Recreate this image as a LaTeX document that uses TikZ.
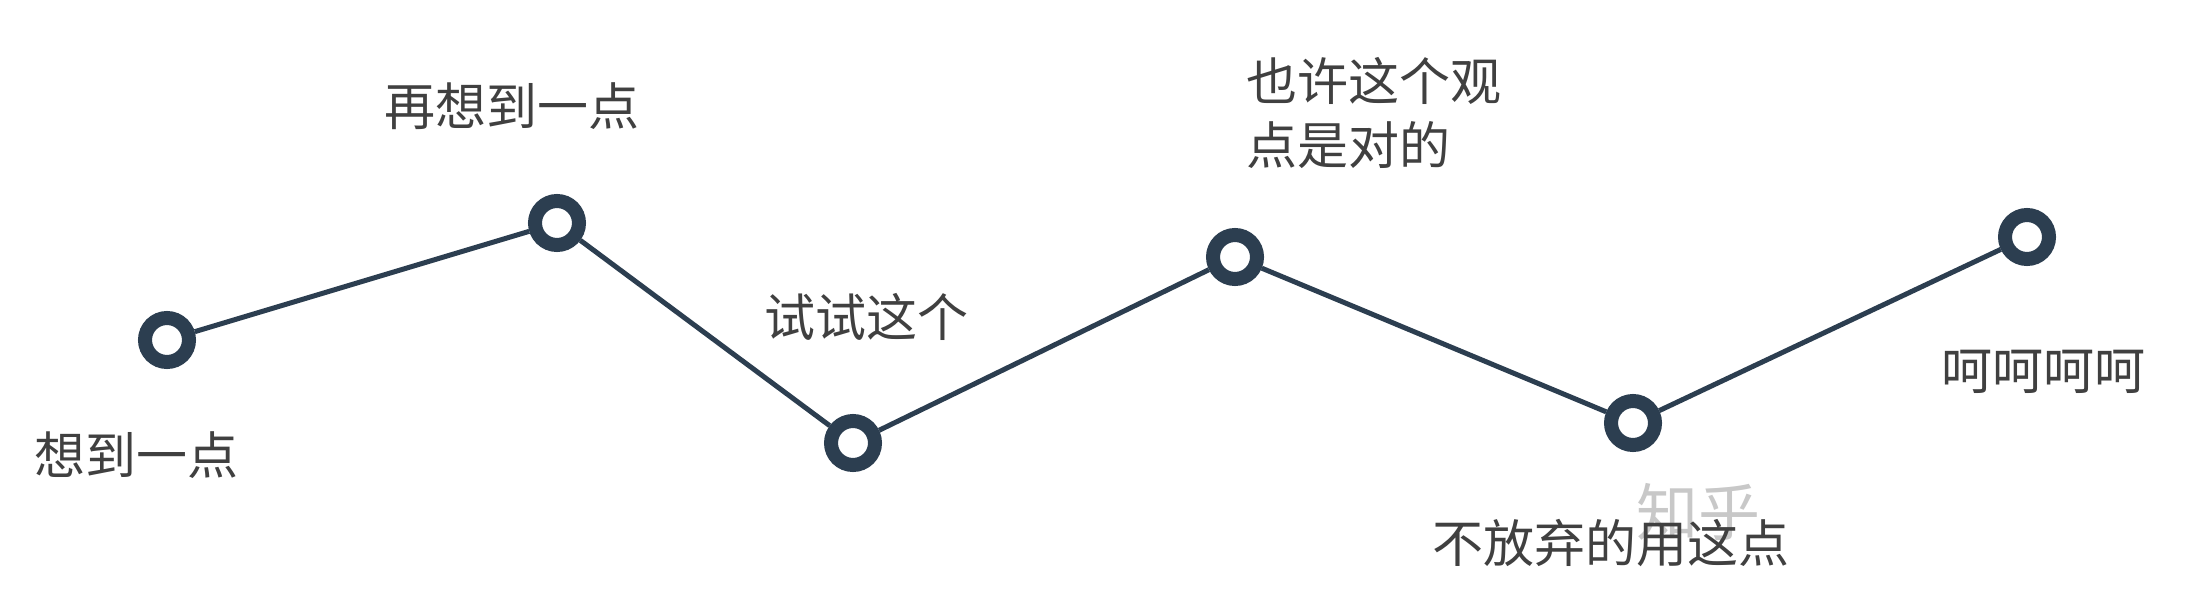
\documentclass[tikz,border=0pt]{standalone}
\usepackage{fontspec}
\setmainfont{Noto Sans CJK SC}
\definecolor{navy}{RGB}{44,62,80}
\definecolor{txt}{RGB}{64,64,64}
\definecolor{wm}{RGB}{200,200,200}
\begin{document}
\begin{tikzpicture}[x=1pt,y=-1pt,
  dot/.style={circle,draw=navy,line width=14pt,fill=white,minimum size=44pt,inner sep=0pt},
  conn/.style={draw=navy,line width=5pt},
  lbl/.style={text=txt,inner sep=0pt,font=\fontsize{51}{60}\selectfont}]
\useasboundingbox[fill=white] (0,0) rectangle (2191,610);
\node[dot] (p1) at (167,340) {};
\node[dot] (p2) at (557,223) {};
\node[dot] (p3) at (853,443) {};
\node[dot] (p4) at (1235,257) {};
\node[dot] (p5) at (1633,423) {};
\node[dot] (p6) at (2027,237) {};
\draw[conn] (p1) -- (p2);
\draw[conn] (p2) -- (p3);
\draw[conn] (p3) -- (p4);
\draw[conn] (p4) -- (p5);
\draw[conn] (p5) -- (p6);
\node[lbl] (t1) at (136,455) {想到一点};
\node[lbl] (t2) at (512,106) {再想到一点};
\node[lbl] (t3) at (866,317) {试试这个};
\node[lbl,align=left,anchor=north west,font=\fontsize{51}{64}\selectfont] (t4) at (1246,57) {也许这个观\\点是对的};
\node[text=wm,inner sep=0pt,font=\fontsize{62}{62}\selectfont] (wm) at (1698,512) {知乎};
\node[lbl] (t5) at (1611,543) {不放弃的用这点};
\node[lbl] (t6) at (2043,372) {呵呵呵呵};
\end{tikzpicture}
\end{document}
